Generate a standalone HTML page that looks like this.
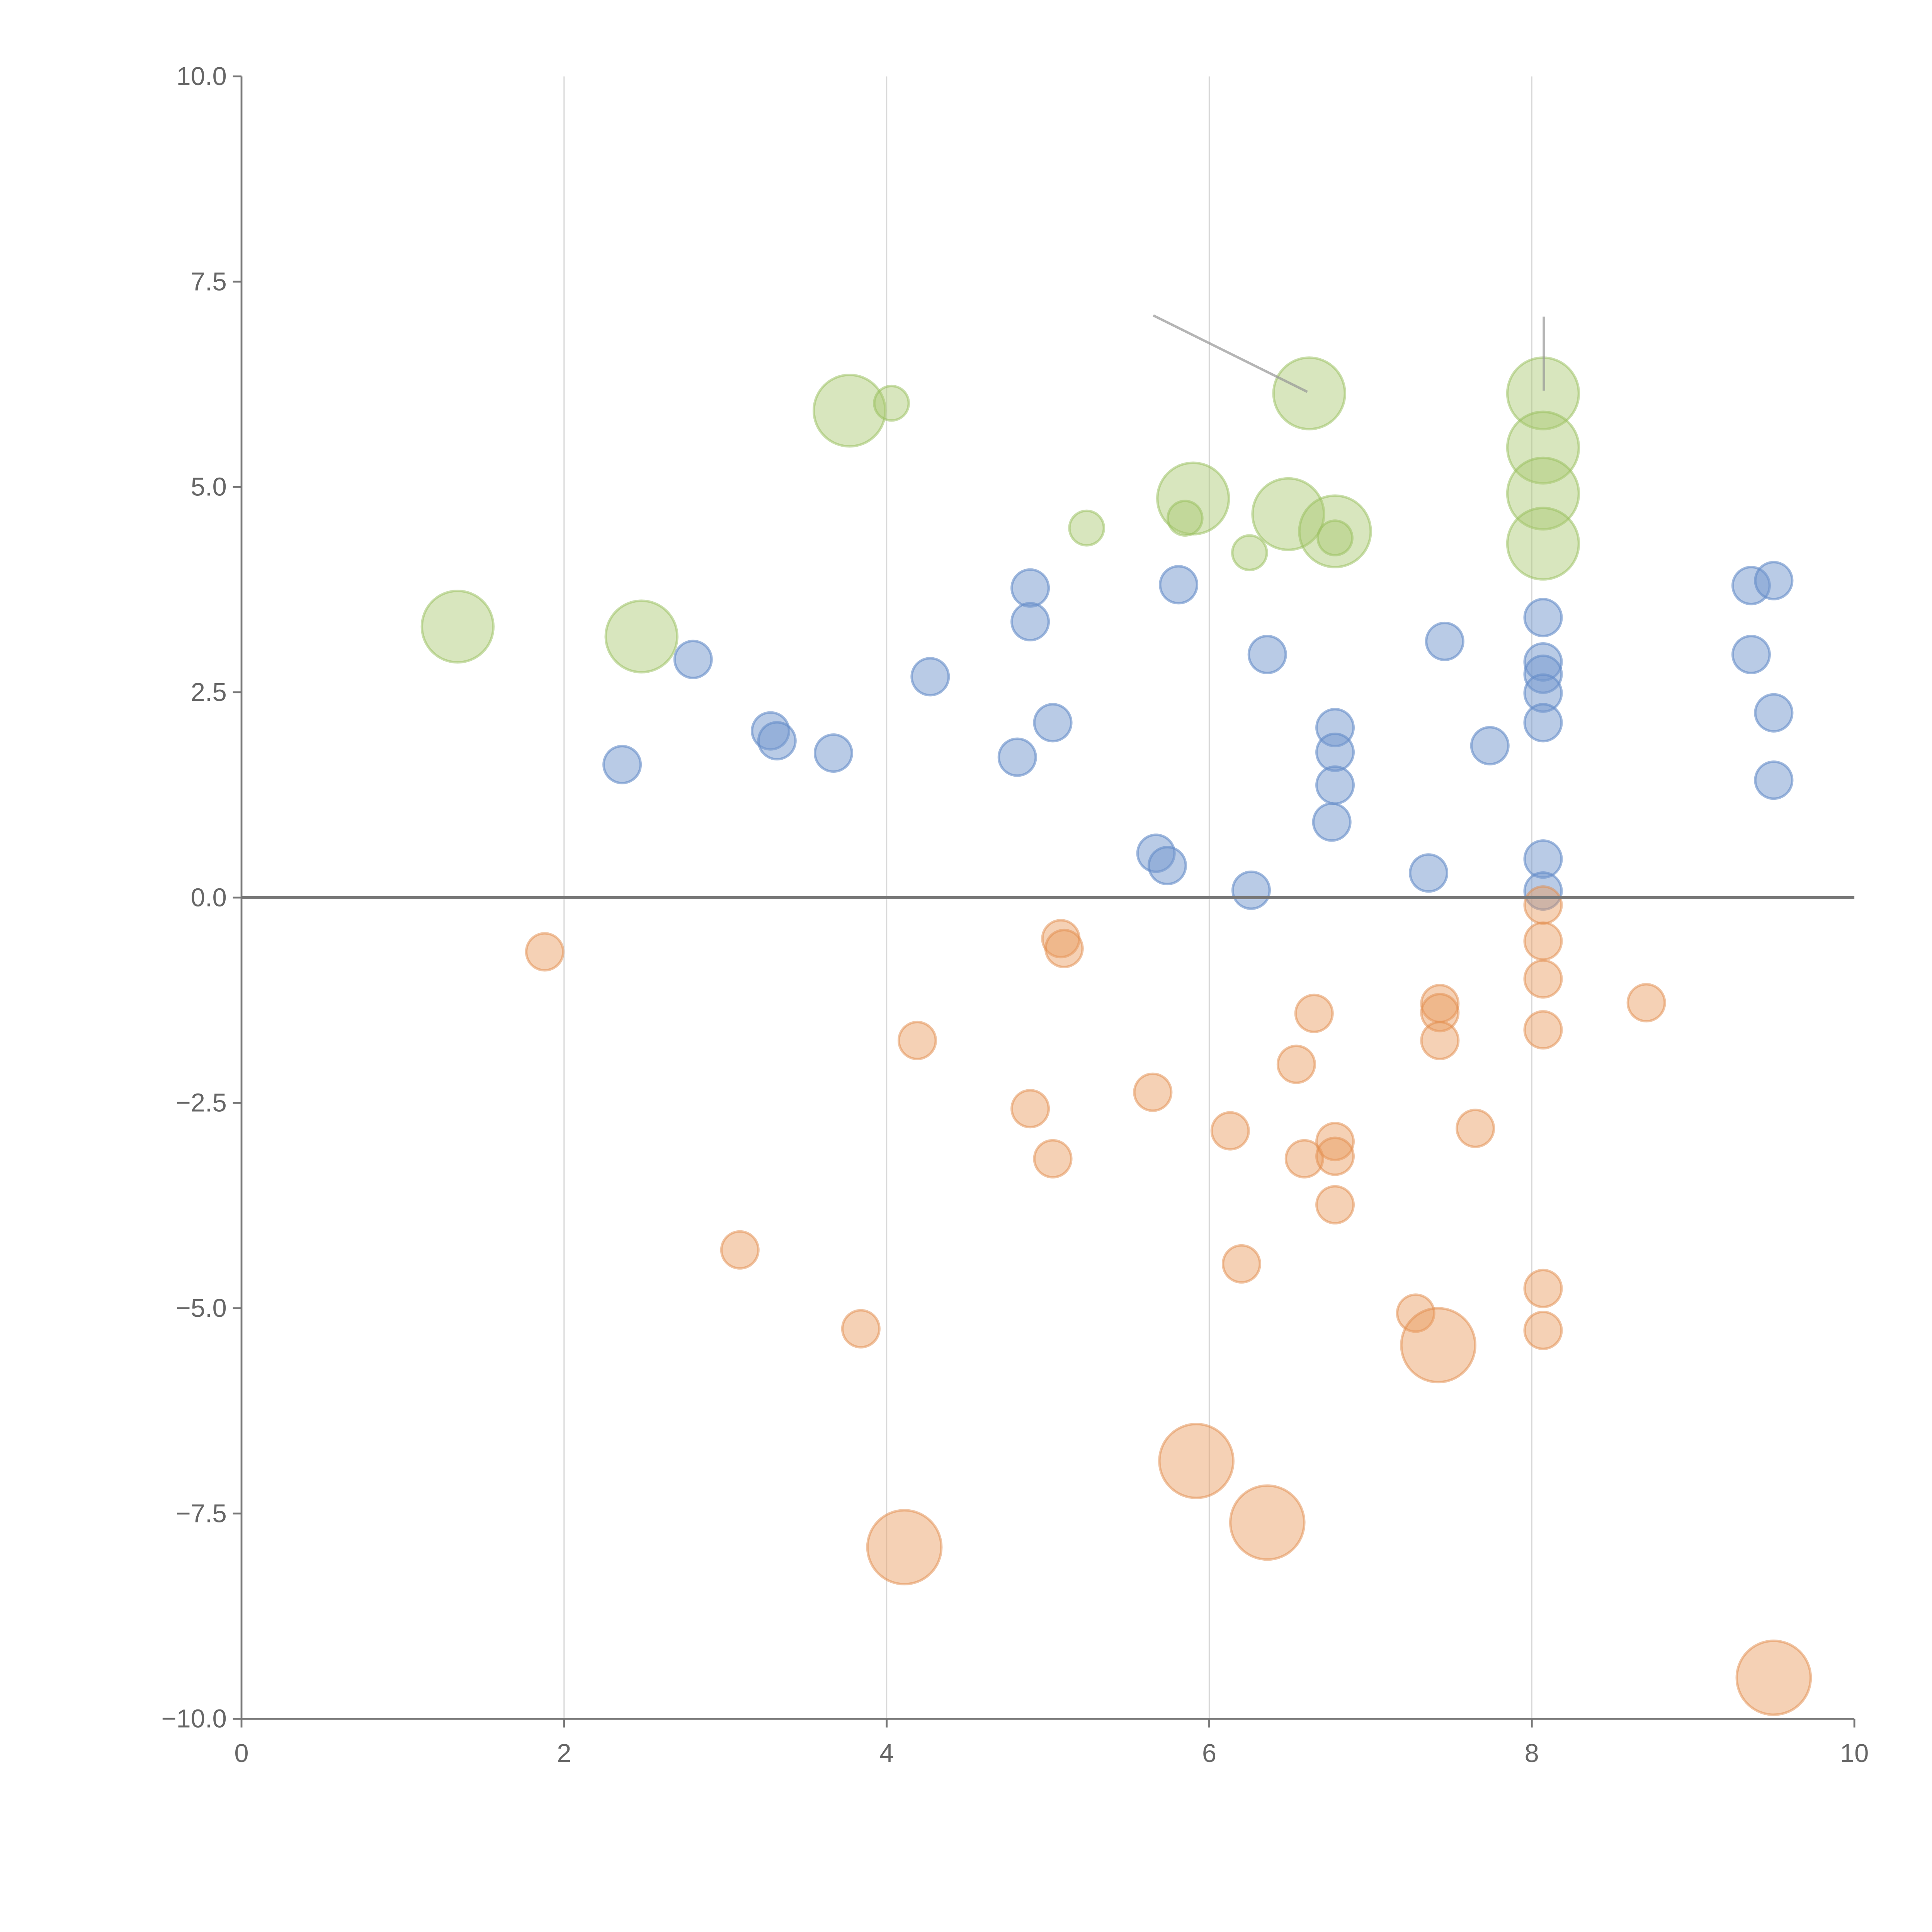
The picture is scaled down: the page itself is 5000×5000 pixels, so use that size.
<!DOCTYPE html>
<html><head><meta charset="utf-8">
<style>
html,body{margin:0;padding:0;background:#fff;}
svg{display:block;}
text{font-family:"Liberation Sans",sans-serif;fill:#666;font-size:21px;}
</style></head>
<body>
<svg id="chart" width="5000" height="5000" viewBox="0 0 1568 1568" xmlns="http://www.w3.org/2000/svg">
<g id="grid"></g>
<g id="marks"></g>
<g id="axes"></g>
</svg>
<script>
const xTicks = [0, 2, 4, 6, 8, 10];
const yTicks = [-10, -7.5, -5, -2.5, 0, 2.5, 5, 7.5, 10];
const blueX = [2.36,2.80,3.28,3.32,3.67,4.27,4.81,4.89,4.89,5.03,5.67,5.74,5.81,6.26,6.36,6.76,6.78,6.78,6.78,7.36,7.46,7.74,8.07,8.07,8.07,8.07,8.07,8.07,8.07,9.36,9.50,9.36,9.50,9.50];
const blueY = [1.62,2.90,2.03,1.91,1.76,2.69,1.71,3.77,3.36,2.13,0.54,0.39,3.81,0.09,2.96,0.92,2.07,1.77,1.37,0.30,3.12,1.85,3.41,2.87,2.72,2.49,2.13,0.47,0.08,3.80,3.86,2.96,2.25,1.43];
const orangeX = [1.88,3.09,3.84,4.19,4.89,5.03,5.08,5.10,5.65,6.13,6.20,6.54,6.59,6.65,6.78,6.78,6.78,7.28,7.43,7.43,7.43,7.65,8.07,8.07,8.07,8.07,8.07,8.07,8.71];
const orangeY = [-0.66,-4.29,-5.25,-1.74,-2.57,-3.18,-0.50,-0.62,-2.37,-2.84,-4.46,-2.03,-3.18,-1.41,-2.97,-3.15,-3.74,-5.06,-1.29,-1.40,-1.74,-2.81,-0.09,-0.53,-0.99,-1.61,-4.76,-5.27,-1.28];
const orangeBigX = [4.11,5.92,6.36,7.42,9.50];
const orangeBigY = [-7.91,-6.86,-7.61,-5.45,-9.50];
const greenX = [4.03,5.24,5.85,6.25,6.78];
const greenY = [6.02,4.50,4.62,4.20,4.38];
const greenBigX = [1.34,2.48,3.77,5.90,6.49,6.62,6.78,8.07,8.07,8.07,8.07];
const greenBigY = [3.30,3.18,5.93,4.86,4.67,6.14,4.46,6.14,5.48,4.92,4.31];

const NS = "http://www.w3.org/2000/svg";
const X0 = 196, X1 = 1505, Y0 = 1395, Y1 = 62;
function sx(v){ return X0 + (v - 0) / 10 * (X1 - X0); }
function sy(v){ return Y0 - (v + 10) / 20 * (Y0 - Y1); }
function mk(tag, attrs, parent){
  const e = document.createElementNS(NS, tag);
  for (const k in attrs) e.setAttribute(k, attrs[k]);
  parent.appendChild(e);
  return e;
}
const grid = document.getElementById('grid');
const marks = document.getElementById('marks');
const axes = document.getElementById('axes');

xTicks.forEach(t => {
  if (t > 0 && t < 10) {
    const l = mk('line', {x1: sx(t), x2: sx(t), y1: Y1, y2: Y0, stroke: '#d9d9d9', 'stroke-width': 1}, grid);
    
    
  }
});

function drawSeries(xs, ys, r, fill, stroke, name){
  xs.forEach((x, i) => {
    const c = mk('circle', {cx: sx(x), cy: sy(ys[i]), r: r, fill: fill, stroke: stroke, 'stroke-width': 2}, marks);
    
    
  });
}
drawSeries(greenBigX, greenBigY, 29, 'rgba(168,200,110,0.45)', 'rgba(150,190,90,0.5)', 'green-large-point');
drawSeries(greenX, greenY, 14, 'rgba(168,200,110,0.45)', 'rgba(150,190,90,0.5)', 'green-point');
drawSeries(blueX, blueY, 15, 'rgba(116,152,206,0.5)', 'rgba(100,140,200,0.6)', 'blue-point');
drawSeries(orangeX, orangeY, 15, 'rgba(232,154,92,0.45)', 'rgba(225,140,75,0.5)', 'orange-point');
drawSeries(orangeBigX, orangeBigY, 30, 'rgba(232,154,92,0.45)', 'rgba(225,140,75,0.5)', 'orange-large-point');

// connector lines
const c1 = mk('line', {x1: 936, y1: 256, x2: 1061, y2: 318, stroke: 'rgba(150,150,150,0.7)', 'stroke-width': 2}, marks);


const c2 = mk('line', {x1: 1253, y1: 257, x2: 1253, y2: 317, stroke: 'rgba(150,150,150,0.7)', 'stroke-width': 2}, marks);



// zero line
const z = mk('line', {x1: X0, x2: X1, y1: sy(0), y2: sy(0), stroke: '#777', 'stroke-width': 2.5}, axes);


// axes
const ya = mk('line', {x1: X0, x2: X0, y1: Y1, y2: Y0, stroke: '#777', 'stroke-width': 1.5}, axes);


const xa = mk('line', {x1: X0, x2: X1, y1: Y0, y2: Y0, stroke: '#777', 'stroke-width': 1.5}, axes);



xTicks.forEach(t => {
  const tk = mk('line', {x1: sx(t), x2: sx(t), y1: Y0, y2: Y0 + 7, stroke: '#777', 'stroke-width': 1.5}, axes);
  
  
  const tx = mk('text', {x: sx(t), y: Y0 + 35, 'text-anchor': 'middle'}, axes);
  tx.textContent = String(t);
  
  
});
yTicks.forEach(t => {
  const tk = mk('line', {x1: X0 - 7, x2: X0, y1: sy(t), y2: sy(t), stroke: '#777', 'stroke-width': 1.5}, axes);
  
  
  const tx = mk('text', {x: X0 - 12, y: sy(t) + 7, 'text-anchor': 'end'}, axes);
  tx.textContent = (t < 0 ? '\u2212' : '') + Math.abs(t).toFixed(1);
  
  
});
</script>
</body></html>
